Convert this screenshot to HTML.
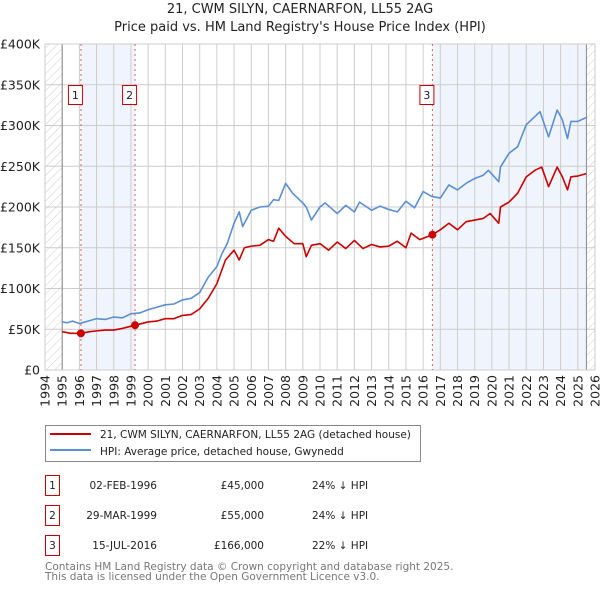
<!DOCTYPE html>
<html><head><meta charset="utf-8">
<style>
body{margin:0;background:#fff;font-family:"DejaVu Sans","Liberation Sans",sans-serif;}
svg text{font-family:"DejaVu Sans","Liberation Sans",sans-serif;}
</style></head>
<body>
<svg id="chart" width="600" height="590" xmlns="http://www.w3.org/2000/svg">
<defs>
<pattern id="hatch" patternUnits="userSpaceOnUse" width="6" height="6" patternTransform="rotate(45)">
<line x1="0" y1="0" x2="0" y2="6" stroke="#ccc" stroke-width="1"/>
</pattern>
</defs>
<text x="300" y="13" text-anchor="middle" font-size="13" fill="#222">21, CWM SILYN, CAERNARFON, LL55 2AG</text>
<text x="300" y="31" text-anchor="middle" font-size="13" fill="#222">Price paid vs. HM Land Registry's House Price Index (HPI)</text>
<g id="plot"></g>
<g id="legend">
<rect x="45.5" y="425.5" width="375" height="36" fill="#fff" stroke="#888"/>
<line x1="50" y1="434" x2="91" y2="434" stroke="#cc0000" stroke-width="2"/>
<text x="100" y="438" font-size="10.5" fill="#222">21, CWM SILYN, CAERNARFON, LL55 2AG (detached house)</text>
<line x1="50" y1="450" x2="91" y2="450" stroke="#5b8fd4" stroke-width="2"/>
<text x="100" y="455" font-size="10.5" fill="#222">HPI: Average price, detached house, Gwynedd</text>
</g>
<g id="table" font-size="10.5" fill="#222"></g>
<text x="45" y="570" font-size="10.5" fill="#777">Contains HM Land Registry data © Crown copyright and database right 2025.</text>
<text x="45" y="580" font-size="10.5" fill="#777">This data is licensed under the Open Government Licence v3.0.</text>
</svg>
<script>
const yTicks=[0,50,100,150,200,250,300,350,400];
const yTickLabels=["£0","£50K","£100K","£150K","£200K","£250K","£300K","£350K","£400K"];
const xYears=[1994,1995,1996,1997,1998,1999,2000,2001,2002,2003,2004,2005,2006,2007,2008,2009,2010,2011,2012,2013,2014,2015,2016,2017,2018,2019,2020,2021,2022,2023,2024,2025,2026];
const hpiYears=[1995,1995.3,1995.6,1996,1996.5,1997,1997.5,1998,1998.5,1999,1999.5,2000,2000.5,2001,2001.5,2002,2002.5,2003,2003.5,2004,2004.3,2004.6,2005,2005.3,2005.5,2006,2006.5,2007,2007.3,2007.6,2008,2008.4,2009,2009.2,2009.5,2010,2010.3,2011,2011.5,2012,2012.3,2013,2013.5,2014,2014.5,2015,2015.5,2016,2016.5,2017,2017.5,2018,2018.5,2019,2019.5,2019.8,2020.4,2020.5,2021,2021.5,2022,2022.5,2022.8,2023.3,2023.8,2024.1,2024.4,2024.6,2025,2025.5];
const hpiValues=[59,58,60,57,60,63,62,65,64,69,70,74,77,80,81,86,88,95,114,127,143,155,180,194,176,196,200,201,209,208,229,217,205,200,184,200,205,192,202,194,206,196,201,197,194,207,199,219,213,211,227,221,229,235,239,245,231,249,266,274,301,311,317,286,319,307,284,305,305,310];
const priceYears=[1995,1995.5,1996.09,1996.6,1997,1997.5,1998,1998.5,1999.24,2000,2000.5,2001,2001.5,2002,2002.5,2003,2003.5,2004,2004.5,2005,2005.3,2005.6,2006,2006.5,2007,2007.3,2007.6,2008,2008.5,2009,2009.2,2009.5,2010,2010.5,2011,2011.5,2012,2012.5,2013,2013.5,2014,2014.5,2015,2015.3,2015.8,2016.3,2016.54,2017,2017.5,2018,2018.5,2019,2019.5,2019.9,2020.4,2020.5,2021,2021.5,2022,2022.5,2022.9,2023.3,2023.8,2024.1,2024.4,2024.6,2025,2025.5];
const priceValues=[47,45,45,47,48,49,49,51,55,59,60,63,63,67,68,75,88,106,135,147,135,150,152,153,160,158,174,164,155,155,139,153,155,147,157,149,159,149,154,151,152,158,150,168,160,164,166,172,180,172,182,184,186,192,180,200,206,217,237,245,249,225,249,237,221,237,238,241];
const saleYears=[2016.54,1996.09,1999.24];
const saleLabels=["3","1","2"];
const saleValues=[166,45,55];
const tDates=["02-FEB-1996","29-MAR-1999","15-JUL-2016"];
const tPrices=["£45,000","£55,000","£166,000"];
const tHpi=["24% ↓ HPI","24% ↓ HPI","22% ↓ HPI"];

const NS="http://www.w3.org/2000/svg";
const X0=45,X1=595,Y0=370,Y1=44;
const xs=y=>X0+(y-1994)/(2026-1994)*(X1-X0);
const ys=v=>Y0-v/400*(Y0-Y1);
function mk(tag,attrs,parent){const e=document.createElementNS(NS,tag);for(const k in attrs)e.setAttribute(k,attrs[k]);parent.appendChild(e);return e;}
const g=document.getElementById('plot');
let r;
r=mk('rect',{x:X0,y:Y1,width:X1-X0,height:Y0-Y1,fill:'#fff'},g);


r=mk('rect',{x:xs(1996.09),y:Y1,width:xs(1999.24)-xs(1996.09),height:Y0-Y1,fill:'#f0f4fc'},g);


r=mk('rect',{x:xs(2016.54),y:Y1,width:xs(2025.5)-xs(2016.54),height:Y0-Y1,fill:'#f0f4fc'},g);


r=mk('rect',{x:X0,y:Y1,width:xs(1995)-X0,height:Y0-Y1,fill:'url(#hatch)'},g);


r=mk('rect',{x:xs(2025.5),y:Y1,width:X1-xs(2025.5),height:Y0-Y1,fill:'url(#hatch)'},g);


yTicks.forEach((t,i)=>{
 const l=mk('line',{x1:X0,x2:X1,y1:ys(t),y2:ys(t),stroke:'#ccc','stroke-width':1},g);
 
 
 const tx=mk('text',{x:40,y:ys(t)+4.5,'text-anchor':'end','font-size':12.5,fill:'#222'},g);
 tx.textContent=yTickLabels[i];
 
 
});
xYears.forEach(yr=>{
 const l=mk('line',{x1:xs(yr),x2:xs(yr),y1:Y1,y2:Y0,stroke:'#ccc','stroke-width':1},g);
 
 
 const tx=mk('text',{x:0,y:0,'text-anchor':'end','font-size':12.5,fill:'#222',transform:`translate(${xs(yr)+4.5},${Y0+5}) rotate(-90)`},g);
 tx.textContent=yr;
 
 
});
[1995,2025.5].forEach(yr=>{
 const l=mk('line',{x1:xs(yr),x2:xs(yr),y1:Y1,y2:Y0,stroke:'#888','stroke-width':1},g);
 
 
});
r=mk('rect',{x:X0,y:Y1,width:X1-X0,height:Y0-Y1,fill:'none',stroke:'#ccc'},g);


saleYears.forEach((s,i)=>{
 const l=mk('line',{x1:xs(s),x2:xs(s),y1:Y1,y2:Y0,stroke:'#e06060','stroke-width':1,'stroke-dasharray':'2,3'},g);
 
 
});
const hp=mk('polyline',{points:hpiYears.map((y,i)=>xs(y)+','+ys(hpiValues[i])).join(' '),fill:'none',stroke:'#5b8fd4','stroke-width':1.6,'stroke-linejoin':'round'},g);


const pp=mk('polyline',{points:priceYears.map((y,i)=>xs(y)+','+ys(priceValues[i])).join(' '),fill:'none',stroke:'#cc0000','stroke-width':1.6,'stroke-linejoin':'round'},g);


saleYears.forEach((s,i)=>{
 const c=mk('circle',{cx:xs(s),cy:ys(saleValues[i]),r:4,fill:'#cc0000'},g);
 
 
 const b=mk('rect',{x:xs(s)-12.5,y:85.5,width:14,height:19,fill:'#fff',stroke:'#cc0000'},g);
 
 
 const t=mk('text',{x:xs(s)-5.5,y:99,'text-anchor':'middle','font-size':11,fill:'#222'},g);
 t.textContent=saleLabels[i];
 
 
});
const tb=document.getElementById('table');
tDates.forEach((d,i)=>{
 const y0=475+i*30;
 const b=mk('rect',{x:45.5,y:y0+0.5,width:14,height:20,fill:'#fff',stroke:'#cc0000'},tb);
 
 
 let t=mk('text',{x:52.5,y:y0+14,'text-anchor':'middle'},tb);t.textContent=String(i+1);
 
 
 t=mk('text',{x:157,y:y0+14,'text-anchor':'end'},tb);t.textContent=d;
 
 
 t=mk('text',{x:264,y:y0+14,'text-anchor':'end'},tb);t.textContent=tPrices[i];
 
 
 t=mk('text',{x:312,y:y0+14},tb);t.textContent=tHpi[i];
 
 
});
</script>
</body></html>
